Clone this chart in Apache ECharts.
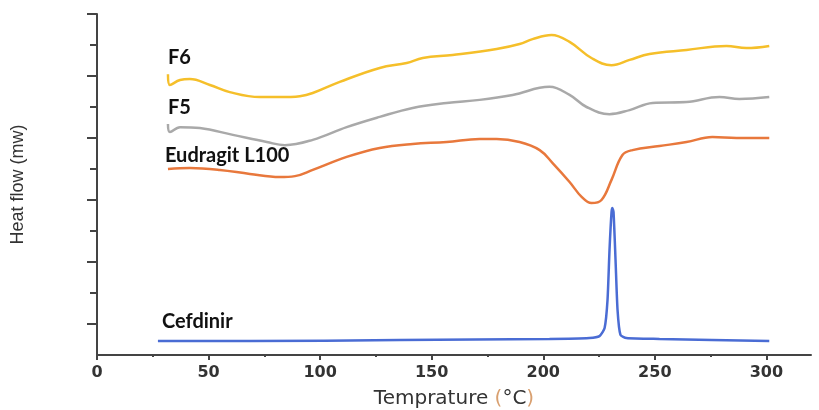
<!DOCTYPE html>
<html>
<head>
<meta charset="utf-8">
<script src="https://cdn.jsdelivr.net/npm/echarts@6/dist/echarts.min.js"></script>
<style>
  html, body { margin: 0; padding: 0; background: #fff; }
  #main { width: 819px; height: 410px; }
</style>
</head>
<body>
<div id="main"></div>
<script>
// DSC curves (temperature in °C, heat flow in arbitrary units)
var f6Temp = [31.8, 32.7, 37.2, 41.6, 50.6, 59.5, 73, 81.9, 90.9, 96.7, 108.8, 126.7, 138.8, 146, 159.4, 179.1, 189.4, 195.2, 203.7, 211.8, 221.6, 230.6, 238.7, 247.6, 264.2, 282.1, 291, 301.3];
var f6Flow = [9.06, 8.71, 8.87, 8.90, 8.71, 8.48, 8.32, 8.32, 8.35, 8.45, 8.81, 9.26, 9.42, 9.58, 9.68, 9.87, 10.03, 10.19, 10.32, 10.10, 9.58, 9.35, 9.52, 9.71, 9.84, 9.97, 9.90, 9.97];

var f5Temp = [31.8, 32.7, 37.2, 46.1, 60.9, 76.1, 84.2, 96.7, 111.9, 126.7, 141.5, 156.7, 171.5, 186.3, 202.8, 211.8, 219.4, 229.7, 238.7, 249, 264.2, 279, 287.9, 301.3];
var f5Flow = [7.45, 7.19, 7.35, 7.32, 7.10, 6.87, 6.77, 6.94, 7.35, 7.68, 7.97, 8.13, 8.23, 8.39, 8.65, 8.39, 8.00, 7.77, 7.90, 8.13, 8.16, 8.32, 8.26, 8.32];

var eudTemp = [31.8, 41.6, 55.1, 68.5, 81.9, 88.7, 96.7, 111.9, 126.7, 141.5, 156.7, 171.5, 179.1, 189.4, 198.4, 204.2, 211.8, 217.2, 221.6, 226.1, 230.6, 235.5, 240, 252.1, 264.2, 275.8, 286.6, 301.3];
var eudFlow = [6.00, 6.03, 5.97, 5.84, 5.74, 5.77, 5.97, 6.39, 6.68, 6.81, 6.87, 6.97, 6.97, 6.87, 6.61, 6.19, 5.58, 5.10, 4.90, 5.00, 5.65, 6.45, 6.61, 6.74, 6.87, 7.03, 7.00, 7.00];

var cefTemp = [27.3, 68.5, 135.7, 202.8, 220.7, 225.2, 227.5, 228.8, 229.7, 230.6, 231.0, 231.5, 232.4, 233.3, 234.6, 237.3, 252.1, 301.3];
var cefFlow = [0.45, 0.45, 0.48, 0.52, 0.55, 0.61, 0.87, 1.77, 3.39, 4.61, 4.74, 4.61, 3.06, 1.45, 0.65, 0.55, 0.52, 0.45];

var seriesNames = ['F6', 'F5', 'Eudragit L100', 'Cefdinir'];
var seriesColors = ['#f5bf2a', '#a9a9a9', '#e8783c', '#4a6cd4'];

var xMajor = [0, 50, 100, 150, 200, 250, 300];
var xMinor = [25, 75, 125, 175, 225, 275];
var yMajor = [1, 3, 5, 7, 9, 11];
var yMinor = [2, 4, 6, 8, 10];

function pairs(xs, ys) {
  return xs.map(function (x, i) { return [x, ys[i]]; });
}

var allData = [
  pairs(f6Temp, f6Flow),
  pairs(f5Temp, f5Flow),
  pairs(eudTemp, eudFlow),
  pairs(cefTemp, cefFlow)
];

var axisColor = '#444';

var chart = echarts.init(document.getElementById('main'));

var option = {
  animation: false,
  grid: { left: 97, right: 8, top: 14, bottom: 55, outerBoundsMode: 'none', containLabel: false },
  xAxis: [
    {
      type: 'value', min: 0, max: 320, interval: 50,
      name: '{t|Temprature }{p|(}{t|°C}{p|)}',
      nameLocation: 'middle',
      nameGap: 34,
      nameTextStyle: {
        rich: {
          t: { fontFamily: 'DejaVu Sans', fontSize: 20, color: '#333' },
          p: { fontFamily: 'DejaVu Sans', fontSize: 20, color: '#d9a070' }
        }
      },
      axisLine: { lineStyle: { color: axisColor, width: 2 } },
      axisTick: { customValues: xMajor, length: 5, lineStyle: { color: axisColor, width: 2 } },
      axisLabel: {
        customValues: xMajor, margin: 10,
        fontFamily: 'DejaVu Sans', fontWeight: 'bold', fontSize: 16, color: '#333'
      },
      splitLine: { show: false }
    },
    {
      type: 'value', min: 0, max: 320, position: 'bottom',
      axisLine: { show: false },
      axisTick: { customValues: xMinor, length: 2, lineStyle: { color: axisColor, width: 2 } },
      axisLabel: { show: false },
      splitLine: { show: false }
    }
  ],
  yAxis: [
    {
      type: 'value', min: 0, max: 11, interval: 1,
      name: 'Heat flow (mw)',
      nameLocation: 'middle',
      nameGap: 70,
      nameTextStyle: { fontFamily: 'Liberation Sans', fontSize: 18, color: '#333' },
      axisLine: { show: true, lineStyle: { color: axisColor, width: 2 } },
      axisTick: { show: true, customValues: yMajor, length: 10, lineStyle: { color: axisColor, width: 2 } },
      axisLabel: { show: false },
      splitLine: { show: false }
    },
    {
      type: 'value', min: 0, max: 11, position: 'left',
      axisLine: { show: false },
      axisTick: { show: true, customValues: yMinor, length: 7, lineStyle: { color: axisColor, width: 2 } },
      axisLabel: { show: false },
      splitLine: { show: false }
    }
  ],
  series: allData.map(function (d, i) {
    return {
      name: seriesNames[i],
      type: 'line',
      data: d,
      smooth: i === 3 ? 0.2 : 0.4,
      showSymbol: false,
      lineStyle: { color: seriesColors[i], width: 2.5 }
    };
  })
};

chart.setOption(option);

// series names written just above the start of each curve
var labelOffsets = [[0, -17], [0, -17], [-3, -13], [4, -20]];
var texts = allData.map(function (d, i) {
  var p = chart.convertToPixel({ xAxisIndex: 0, yAxisIndex: 0 }, d[0]);
  return {
    type: 'text',
    x: p[0] + labelOffsets[i][0],
    y: p[1] + labelOffsets[i][1],
    style: {
      text: seriesNames[i],
      fontFamily: 'Lato', fontWeight: 'bold', fontSize: 20,
      fill: '#111', textVerticalAlign: 'middle'
    }
  };
});
chart.setOption({ graphic: texts });
</script>
</body>
</html>
